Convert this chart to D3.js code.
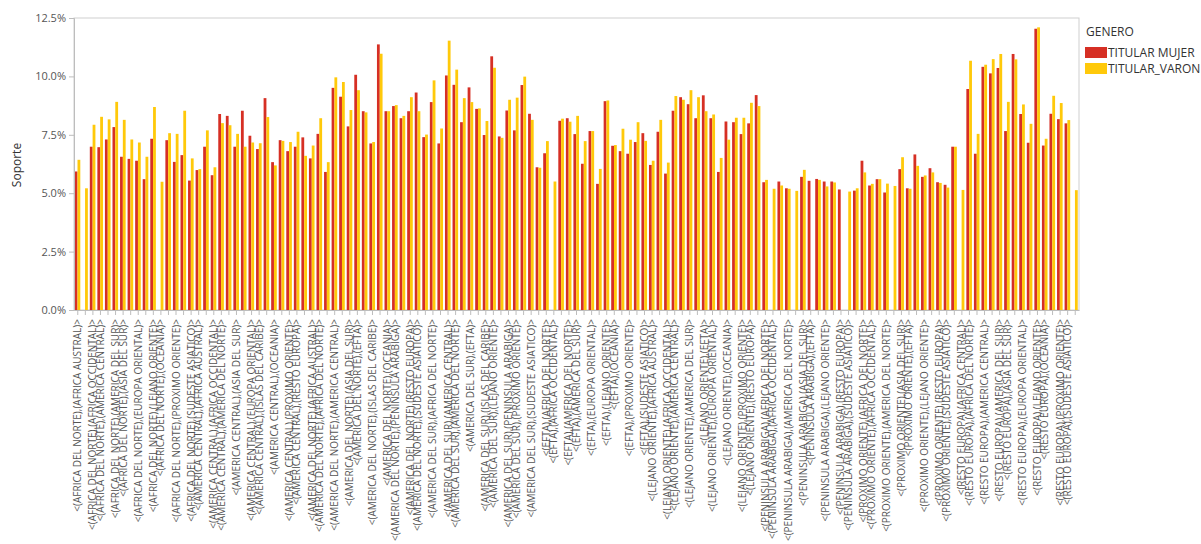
<!DOCTYPE html>
<html><head><meta charset="utf-8">
<script src="https://cdn.jsdelivr.net/npm/d3@7"></script>
<style>body{margin:0;background:#fff} text{font-family:"Open Sans",sans-serif}</style>
</head><body><svg id="c" width="1201" height="544"></svg>
<script>
// Category labels (133 categories; only the labels the reference shows are filled, others are not legible)
const categories = [
"<(AFRICA DEL NORTE),(AFRICA AUSTRAL)>","","<(AFRICA DEL NORTE),(AFRICA OCCIDENTAL)>","<(AFRICA DEL NORTE),(AMERICA CENTRAL)>","",
"<(AFRICA DEL NORTE),(AMERICA DEL SUR)>","<(AFRICA DEL NORTE),(ASIA DEL SUR)>","","<(AFRICA DEL NORTE),(EUROPA ORIENTAL)>","",
"<(AFRICA DEL NORTE),(LEJANO ORIENTE)>","<(AFRICA DEL NORTE),(OCEANIA)>","","<(AFRICA DEL NORTE),(PROXIMO ORIENTE)>","",
"<(AFRICA DEL NORTE),(SUDESTE ASIATICO)>","<(AMERICA CENTRAL),(AFRICA AUSTRAL)>","","<(AMERICA CENTRAL),(AFRICA OCCIDENTAL)>","<(AMERICA CENTRAL),(AMERICA DEL NORTE)>",
"","<(AMERICA CENTRAL),(ASIA DEL SUR)>","","<(AMERICA CENTRAL),(EUROPA ORIENTAL)>","<(AMERICA CENTRAL),(ISLAS DEL CARIBE)>",
"","<(AMERICA CENTRAL),(OCEANIA)>","","<(AMERICA CENTRAL),(PROXIMO ORIENTE)>","<(AMERICA CENTRAL),(RESTO EUROPA)>",
"","<(AMERICA DEL NORTE),(AFRICA AUSTRAL)>","<(AMERICA DEL NORTE),(AFRICA DEL NORTE)>","","<(AMERICA DEL NORTE),(AMERICA CENTRAL)>",
"","<(AMERICA DEL NORTE),(ASIA DEL SUR)>","<(AMERICA DEL NORTE),(EFTA)>","","<(AMERICA DEL NORTE),(ISLAS DEL CARIBE)>",
"","<(AMERICA DEL NORTE),(OCEANIA)>","<(AMERICA DEL NORTE),(PENINSULA ARABIGA)>","","<(AMERICA DEL NORTE),(RESTO EUROPA)>",
"<(AMERICA DEL NORTE),(SUDESTE ASIATICO)>","","<(AMERICA DEL SUR),(AFRICA DEL NORTE)>","","<(AMERICA DEL SUR),(AMERICA CENTRAL)>",
"<(AMERICA DEL SUR),(AMERICA DEL NORTE)>","","<(AMERICA DEL SUR),(EFTA)>","","<(AMERICA DEL SUR),(ISLAS DEL CARIBE)>",
"<(AMERICA DEL SUR),(LEJANO ORIENTE)>","","<(AMERICA DEL SUR),(PENINSULA ARABIGA)>","<(AMERICA DEL SUR),(PROXIMO ORIENTE)>","",
"<(AMERICA DEL SUR),(SUDESTE ASIATICO)>","","<(EFTA),(AFRICA DEL NORTE)>","<(EFTA),(AFRICA OCCIDENTAL)>","",
"<(EFTA),(AMERICA DEL NORTE)>","<(EFTA),(AMERICA DEL SUR)>","","<(EFTA),(EUROPA ORIENTAL)>","",
"<(EFTA),(LEJANO ORIENTE)>","<(EFTA),(OCEANIA)>","","<(EFTA),(PROXIMO ORIENTE)>","",
"<(EFTA),(SUDESTE ASIATICO)>","<(LEJANO ORIENTE),(AFRICA AUSTRAL)>","","<(LEJANO ORIENTE),(AFRICA OCCIDENTAL)>","<(LEJANO ORIENTE),(AMERICA CENTRAL)>",
"","<(LEJANO ORIENTE),(AMERICA DEL SUR)>","","<(LEJANO ORIENTE),(EFTA)>","<(LEJANO ORIENTE),(EUROPA ORIENTAL)>",
"","<(LEJANO ORIENTE),(OCEANIA)>","","<(LEJANO ORIENTE),(PROXIMO ORIENTE)>","<(LEJANO ORIENTE),(RESTO EUROPA)>",
"","<(PENINSULA ARABIGA),(AFRICA DEL NORTE)>","<(PENINSULA ARABIGA),(AFRICA OCCIDENTAL)>","","<(PENINSULA ARABIGA),(AMERICA DEL NORTE)>",
"","<(PENINSULA ARABIGA),(ASIA DEL SUR)>","<(PENINSULA ARABIGA),(EFTA)>","","<(PENINSULA ARABIGA),(LEJANO ORIENTE)>",
"","<(PENINSULA ARABIGA),(RESTO EUROPA)>","<(PENINSULA ARABIGA),(SUDESTE ASIATICO)>","","<(PROXIMO ORIENTE),(AFRICA DEL NORTE)>",
"<(PROXIMO ORIENTE),(AFRICA OCCIDENTAL)>","","<(PROXIMO ORIENTE),(AMERICA DEL NORTE)>","","<(PROXIMO ORIENTE),(ASIA DEL SUR)>",
"<(PROXIMO ORIENTE),(EFTA)>","","<(PROXIMO ORIENTE),(LEJANO ORIENTE)>","","<(PROXIMO ORIENTE),(RESTO EUROPA)>",
"<(PROXIMO ORIENTE),(SUDESTE ASIATICO)>","","<(RESTO EUROPA),(AFRICA CENTRAL)>","<(RESTO EUROPA),(AFRICA DEL NORTE)>","",
"<(RESTO EUROPA),(AMERICA CENTRAL)>","","<(RESTO EUROPA),(AMERICA DEL SUR)>","<(RESTO EUROPA),(ASIA DEL SUR)>","",
"<(RESTO EUROPA),(EUROPA ORIENTAL)>","","<(RESTO EUROPA),(LEJANO ORIENTE)>","<(RESTO EUROPA),(OCEANIA)>","",
"<(RESTO EUROPA),(PROXIMO ORIENTE)>","<(RESTO EUROPA),(SUDESTE ASIATICO)>",""
];
const seriesNames = ["TITULAR MUJER", "TITULAR_VARON"];
const seriesColors = ["#d62f24", "#ffc90a"];
const legendTitle = "GENERO";
const yTitle = "Soporte";
const yTicks = [0, 2.5, 5, 7.5, 10, 12.5];
// Soporte (%) per category
const mujer = [
5.93,null,6.99,6.97,7.30,7.83,6.56,6.47,6.39,5.60,
7.33,null,7.27,6.34,6.63,5.54,5.99,6.99,5.77,8.39,
8.31,6.99,8.53,7.46,6.89,9.07,6.33,7.27,6.80,6.99,
7.39,6.49,7.54,5.91,9.51,9.13,7.86,10.07,8.51,7.13,
11.37,8.51,8.73,8.21,8.51,9.31,7.40,8.90,7.13,10.04,
9.64,8.04,9.53,8.61,7.49,10.86,7.43,8.54,7.69,9.63,
8.40,6.11,6.71,null,8.10,8.21,7.53,6.26,7.66,5.40,
8.94,7.03,6.80,6.69,7.19,7.57,6.21,7.63,5.84,8.53,
9.11,8.81,8.21,9.19,8.21,5.91,8.07,8.04,7.53,7.99,
9.20,5.47,null,5.50,5.21,null,5.70,5.53,5.61,5.50,
5.50,5.16,null,5.11,6.39,5.33,5.60,5.03,null,6.03,
5.21,6.66,5.70,6.07,5.47,5.36,6.99,null,9.46,6.69,
10.41,10.13,10.36,7.66,10.96,8.39,7.16,12.04,7.04,8.40,
8.17,7.99,null
];
const varon = [
6.43,5.21,7.93,8.27,8.16,8.91,8.14,7.30,7.17,6.56,
8.69,5.49,7.57,7.54,8.53,6.49,6.03,7.69,6.11,8.00,
7.91,7.54,6.99,7.17,7.14,8.26,6.19,7.24,7.19,7.63,
6.60,7.04,8.21,6.33,9.96,9.76,8.56,9.41,8.46,7.19,
10.97,8.51,8.77,8.31,9.11,8.51,7.51,9.83,7.77,11.53,
10.29,9.07,8.90,8.63,8.09,10.37,7.37,9.00,9.09,9.99,
8.14,6.09,7.23,5.50,8.19,8.06,8.31,7.23,7.66,6.04,
8.97,7.06,7.76,7.29,8.04,7.24,6.39,8.14,6.31,9.16,
9.00,9.41,9.11,8.51,8.37,6.51,7.29,8.23,8.23,8.87,
8.73,5.57,5.19,5.33,5.19,5.10,6.00,null,5.57,5.29,
5.46,null,5.07,5.21,5.89,5.40,5.60,5.41,5.31,6.54,
5.19,6.17,5.76,5.89,5.44,5.24,6.99,5.14,10.67,7.54,
10.50,10.74,10.96,8.91,10.73,8.80,7.97,12.10,7.33,9.17,
8.86,8.13,5.13
];
const seriesValues = [mujer, varon];

const svg = d3.select("#c");
svg.append("rect").attr("width",1201).attr("height",544).attr("fill","#fff");

const x = d3.scaleBand().domain(d3.range(categories.length)).range([74, 1079]);
const xs = d3.scaleBand().domain(seriesNames).range([0.7, 6.3]);
const y = d3.scaleLinear().domain([0, 12.5]).range([310, 18]);

// frame
svg.append("rect").attr("x",74).attr("y",18).attr("width",1005).attr("height",292)
  .attr("fill","none").attr("stroke","#cfcfcf").attr("stroke-width",1);

// bars
const g = svg.append("g");
seriesNames.forEach((s, si) => {
  g.selectAll(null).data(seriesValues[si].map((v,i)=>({v,i})).filter(d=>d.v!=null))
    .enter().append("rect")
    .attr("x", d => x(d.i) + xs(s))
    .attr("y", d => y(d.v))
    .attr("width", xs.bandwidth())
    .attr("height", d => y(0) - y(d.v))
    .attr("fill", seriesColors[si]);
});

// y axis
const ya = svg.append("g").attr("transform","translate(74,0)")
  .call(d3.axisLeft(y).tickValues(yTicks).tickFormat(d=>d.toFixed(1)+"%").tickSize(5).tickPadding(3));
ya.select(".domain").attr("stroke","#bdbdbd");
ya.selectAll(".tick line").attr("stroke","#bdbdbd");
ya.selectAll("text").attr("fill","#555").style("font-size","11px").style("font-family","'Open Sans',sans-serif");

// x axis
const xa = svg.append("g").attr("transform","translate(0,310)")
  .call(d3.axisBottom(x).tickSize(5).tickSizeOuter(0).tickFormat(i=>categories[i]));
xa.select(".domain").attr("stroke","#bdbdbd");
xa.selectAll(".tick line").attr("stroke","#bdbdbd");
xa.selectAll("text").attr("fill","#555").style("font-size","10px").style("font-family","'Open Sans',sans-serif")
  .attr("transform","rotate(-90)").attr("text-anchor","end").attr("x",-9).attr("y",0).attr("dy","0.35em");

// y title
svg.append("text").attr("transform","translate(21,165) rotate(-90)").attr("text-anchor","middle")
  .attr("fill","#333").style("font-size","12px").text(yTitle);

// legend
const lg = svg.append("g").attr("transform","translate(1085,0)");
lg.append("text").attr("x",1).attr("y",36).attr("fill","#333").style("font-size","12px").text(legendTitle);
seriesNames.forEach((s,si)=>{
  lg.append("rect").attr("x",0).attr("y",47+si*16).attr("width",22).attr("height",11).attr("fill",seriesColors[si]);
  lg.append("text").attr("x",23).attr("y",57+si*16).attr("fill","#333").style("font-size","12px").text(s);
});
</script></body></html>
